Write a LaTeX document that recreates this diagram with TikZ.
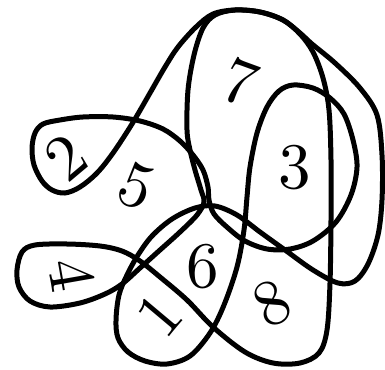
\documentclass[tikz,border=0pt]{standalone}
\font\digfont="[lmroman10-regular.otf]" at 65pt
\begin{document}
\begin{tikzpicture}[x=1pt,y=-1pt,
  curve/.style={line width=5pt, line join=round},
  lbl/.style={font=\digfont, inner sep=0pt}]
\useasboundingbox (0,0) rectangle (385,369);
% curve P : 4-lobe, 8, right inner side, 7 left side
\draw[curve] plot[smooth cycle, tension=0.55] coordinates {
(17,270) (22,252) (35,245) (67,244) (100,246) (122,251) (140,261) (160,277)
(187,300) (213,327) (245,352) (273,363) (300,363) (319,353) (327,330)
(330,283) (331,220) (331,160) (329,110) (323,78) (313,52) (300,34) (283,20)
(260,12) (235,10) (215,15) (203,28) (194,55) (188,90) (187,130) (190,150)
(195,170) (201,190) (204,202) (197,215) (180,232) (160,250) (140,268)
(122,284) (105,294) (80,303) (50,307) (30,301) (19,287)};
% curve Q : 1-loop, outer right, 2-lobe, 3-loop
\draw[curve] plot[smooth cycle, tension=0.55] coordinates {
(116,320) (119,295) (127,275) (138,255) (152,236) (172,219)
(195,208) (215,206) (237,215) (260,232) (285,250) (313,270) (338,283)
(355,281) (368,264) (378,235) (382,200) (382,155) (377,115) (360,88)
(335,63) (312,44) (300,33) (283,20) (260,12) (235,10) (213,14) (196,27)
(178,47) (165,67) (150,93) (132,124) (113,153) (97,173) (80,187) (65,193)
(52,190) (42,181) (34,165) (32,148) (35,133) (43,124) (60,120) (83,117)
(113,117) (140,121) (163,129) (180,141) (193,155) (203,170) (208,187)
(209,200) (214,214) (228,228) (245,241) (267,249) (290,249) (313,241)
(336,222) (351,195) (357,167) (353,140) (344,114) (330,98) (313,88)
(293,85) (279,91) (267,107) (257,133) (250,167) (247,197) (244,230)
(237,267) (224,305) (210,333) (190,356) (167,364) (145,361) (128,352) (118,338)};
\node[lbl, rotate=40]  (n2) at (66,157) {2};
\node[lbl, rotate=-22] (n5) at (136,186) {5};
\node[lbl, rotate=-20] (n7) at (240,82) {7};
\node[lbl]             (n3) at (295,168) {3};
\node[lbl, rotate=-80] (n4) at (72,275) {4};
\node[lbl]             (n6) at (203,267) {6};
\node[lbl, rotate=50]  (n1) at (159,315) {1};
\node[lbl, rotate=28]  (n8) at (272,303) {8};
\end{tikzpicture}
\end{document}
